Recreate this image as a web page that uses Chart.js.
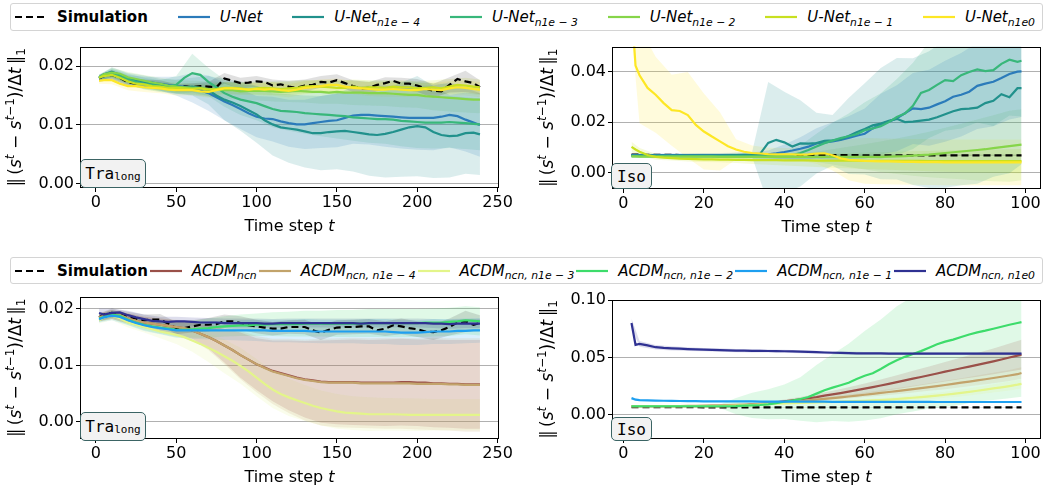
<!DOCTYPE html>
<html>
<head>
<meta charset="utf-8">
<script src="https://cdn.jsdelivr.net/npm/chart.js@4.4.1/dist/chart.umd.min.js"></script>
<style>
  body { margin: 0; background: #fff; }
  #page { position: relative; width: 1048px; height: 494px; overflow: hidden; font-family: 'DejaVu Sans', sans-serif; }
  canvas { position: absolute; }
  .legend { position: absolute; left: 10px; width: 1033px; box-sizing: border-box; border: 1px solid #d4d4d4; border-radius: 3px;
            display: flex; justify-content: space-between; align-items: center; padding: 0 7px 0 4px; font-size: 15px; color: #000; background: #fff; }
  .item { display: flex; align-items: center; white-space: nowrap; }
  .item svg { margin-right: 10px; }
  .item sub { font-size: 72%; vertical-align: baseline; position: relative; top: 0.35em; font-style: italic; }
  .tag { position: absolute; background: #f2f2f2; border: 1.5px solid #3b6464; border-radius: 5px; box-sizing: border-box;
         font: 16px 'DejaVu Sans Mono', monospace; display: flex; align-items: center; justify-content: center; z-index: 2; }
  .tag sub { font-size: 11px; vertical-align: baseline; position: relative; top: 0.3em; }
</style>
</head>
<body>
<div id="page">
  <div class="legend" id="legTop" style="top:3px;height:28px"></div>
  <div class="legend" id="legBottom" style="top:257px;height:27px"></div>

  <canvas id="traUnet" width="520" height="220" style="left:0;top:35px"></canvas>
  <canvas id="isoUnet" width="528" height="220" style="left:520px;top:35px"></canvas>
  <canvas id="traAcdm" width="520" height="209" style="left:0;top:285px"></canvas>
  <canvas id="isoAcdm" width="528" height="209" style="left:520px;top:285px"></canvas>

  <div class="tag" style="left:80px;top:159px;width:66px;height:29px">Tra<sub>long</sub></div>
  <div class="tag" style="left:611px;top:163px;width:41px;height:26px">Iso</div>
  <div class="tag" style="left:80px;top:412px;width:66px;height:29px">Tra<sub>long</sub></div>
  <div class="tag" style="left:611px;top:417px;width:41px;height:24px">Iso</div>
</div>
<script>
// all values are in units of 1e-3

// time steps
const tLong = [2,5,10,15,20,25,30,35,40,45,
               50,55,60,65,70,75,80,85,90,95,
               100,105,110,115,120,125,130,135,140,145,
               150,155,160,165,170,175,180,185,190,195,
               200,205,210,215,220,225,230,235,239];
const bandTLong = [2,10,20,30,40,50,60,70,80,90,100,110,120,130,140,150,160,170,180,190,200,210,220,230,239];
const tIso = [2,3,4,6,8,10,12,14,16,18,
              20,22,24,26,28,30,32,34,36,38,
              40,42,44,46,48,50,52,54,56,58,
              60,62,64,66,68,70,72,74,76,78,
              80,82,84,86,88,90,92,94,96,98,
              99];
const bandTIso = [2,4,8,12,16,20,24,28,32,36,40,44,48,52,56,60,64,68,72,76,80,84,88,92,96,99];

// legend labels
const topNames = ['U-Net','U-Net','U-Net','U-Net','U-Net','U-Net'];
const topSubs = ['','n1e \u2212 4','n1e \u2212 3','n1e \u2212 2','n1e \u2212 1','n1e0'];
const topColors = ['#2b7bba','#21918c','#38b77a','#86d549','#c8e020','#fde725'];
const bottomNames = ['ACDM','ACDM','ACDM','ACDM','ACDM','ACDM'];
const bottomSubs = ['ncn','ncn, n1e \u2212 4','ncn, n1e \u2212 3','ncn, n1e \u2212 2','ncn, n1e \u2212 1','ncn, n1e0'];
const bottomColors = ['#9a5049','#c2a36b','#e3f58a','#3ddc6b','#1e9ff0','#2f3192'];

// ---------- Tra_long, U-Net ----------
const traSim = [17.9,18.3,18.5,18.0,17.2,17.0,17.1,16.8,17.0,16.6,
  16.3,16.6,16.4,16.6,16.5,16.4,17.9,17.5,17.1,17.2,
  17.4,17.3,16.7,16.9,16.5,16.3,16.7,16.8,17.3,17.2,
  17.6,17.1,16.6,16.2,16.3,16.8,17.1,17.5,17.0,17.0,
  16.7,16.2,15.8,15.7,16.8,17.8,17.4,17.1,16.4];
const traUnet = [18.0,18.3,18.6,18.2,17.6,17.3,17.2,17.2,17.0,16.8,
  16.6,16.5,16.3,15.9,15.4,14.7,14.0,13.4,12.7,12.0,
  11.4,11.1,11.0,10.6,10.3,10.1,10.1,10.3,10.5,10.7,
  10.8,11.2,11.6,11.7,11.7,11.6,11.5,11.4,11.3,11.2,
  11.2,11.2,11.2,11.4,11.7,11.5,10.9,10.4,10.0];
const traUnet4 = [18.0,18.6,19.0,18.5,17.9,17.6,17.4,17.0,16.8,16.6,
  16.5,16.4,16.5,16.3,15.9,15.0,14.3,13.8,13.2,12.5,
  11.8,10.8,10.1,9.6,9.4,9.2,8.9,8.6,8.6,8.8,
  8.9,9.0,8.8,8.6,8.4,8.3,8.5,8.8,9.2,9.6,
  9.8,9.6,8.8,8.3,8.1,8.2,8.6,8.7,8.4];
const traUnet3 = [18.1,18.5,18.8,18.3,17.8,17.3,17.0,16.8,16.6,16.5,
  16.8,18.0,18.8,18.5,17.3,16.4,15.4,14.8,14.3,14.0,
  13.7,13.2,12.7,12.4,12.3,12.2,12.0,11.9,11.8,11.7,
  11.6,11.5,11.3,11.2,11.1,11.0,11.0,10.9,10.7,10.6,
  10.5,10.4,10.4,10.4,10.5,10.4,10.3,10.2,10.1];
const traUnet2 = [18.0,18.6,18.9,18.7,18.1,17.8,17.5,17.2,17.0,16.7,
  16.5,16.4,16.3,16.3,16.1,16.0,15.9,15.9,15.7,15.8,
  15.8,15.8,15.7,15.6,15.7,15.8,15.7,15.6,15.6,15.5,
  15.6,15.5,15.5,15.5,15.4,15.4,15.4,15.3,15.2,15.1,
  15.1,14.9,14.8,14.7,14.6,14.5,14.4,14.3,14.3];
const traUnet1 = [18.0,18.3,18.5,18.0,17.4,17.0,16.9,16.6,16.5,16.3,
  16.3,16.2,16.1,16.2,16.0,16.1,16.3,16.3,16.2,16.0,
  16.2,16.3,16.2,16.1,16.2,16.3,16.5,16.6,16.5,16.4,
  16.3,16.3,16.5,16.3,16.4,16.4,16.3,16.5,16.4,16.4,
  16.2,16.3,16.4,16.2,16.5,16.8,16.7,16.5,16.4];
const traUnet0 = [17.5,17.6,17.6,17.0,16.6,16.6,16.4,16.3,16.2,16.0,
  15.9,15.9,15.9,15.7,15.6,15.9,16.2,16.2,16.1,16.0,
  16.1,16.0,16.1,15.9,15.8,16.0,16.3,16.4,16.6,16.8,
  16.8,16.5,16.3,16.2,16.1,16.0,16.0,16.1,16.0,15.9,
  15.9,16.1,16.0,15.9,16.2,16.4,16.3,16.1,16.0];
// standard deviations on bandTLong
const traSimStd = [0.6,0.8,0.6,0.6,0.6,0.6,0.7,0.8,0.9,0.9,0.9,1.0,1.0,1.0,1.0,1.0,1.0,1.0,1.0,1.0,1.1,1.2,1.3,1.8,1.2];
const traUnetStd = [0.5,0.8,0.9,1.0,1.2,1.6,2.5,3.0,3.2,3.4,3.5,3.8,4.0,4.2,4.4,4.6,4.8,5.0,5.2,5.3,5.4,5.5,5.5,5.4,5.4];
const traUnet4Std = [0.5,0.8,0.9,1.0,1.0,1.2,1.5,2.4,3.5,4.2,4.8,5.3,5.8,6.1,6.3,6.4,6.7,7.0,7.4,8.0,8.5,7.8,7.0,6.9,6.9];
const traUnet3Std = [0.5,0.8,0.9,1.0,1.0,1.5,3.3,2.4,2.3,2.6,2.9,3.1,3.3,3.5,3.7,3.9,4.0,4.1,4.2,4.3,4.4,4.4,4.4,4.4,4.4];
const traUnet2Std = [0.5,0.8,0.9,1.0,1.0,1.1,1.2,1.3,1.4,1.5,1.6,1.7,1.8,1.9,2.0,2.0,2.1,2.1,2.2,2.2,2.2,2.3,2.3,2.3,2.3];
const traUnet1Std = [0.5,0.8,0.8,0.8,0.8,0.9,0.9,1.0,1.0,1.0,1.0,1.1,1.1,1.1,1.1,1.1,1.2,1.2,1.2,1.2,1.2,1.2,1.3,1.3,1.3];
const traUnet0Std = [0.5,0.7,0.7,0.8,0.8,0.9,0.9,1.0,1.0,1.0,1.0,1.1,1.1,1.1,1.1,1.1,1.1,1.2,1.2,1.2,1.2,1.2,1.2,1.3,1.3];

// ---------- Iso, U-Net ----------
const isoSim = [7.2,7.2,7.2,7.1,7.1,7.1,7.1,7.0,7.0,7.0,
  7.0,7.0,7.0,7.0,7.0,7.0,7.0,7.0,7.0,7.0,
  7.0,7.0,7.0,7.0,7.0,7.0,7.0,7.0,7.0,7.0,
  6.9,6.9,6.9,6.9,6.9,6.9,6.9,6.9,6.9,6.9,
  6.9,6.9,6.9,6.9,6.9,6.9,6.9,6.9,6.9,6.9,
  6.9];
const isoUnet = [7.0,7.0,7.0,7.0,7.0,7.0,7.0,7.0,7.0,7.0,
  7.0,7.0,7.0,7.0,7.0,7.0,7.0,7.1,7.3,7.7,
  8.2,8.8,9.5,10.3,11.6,12.0,12.4,13.0,13.8,14.6,
  15.4,17.5,19.2,20.2,21.5,23.5,25.4,25.1,25.7,27.0,
  28.2,30.0,30.8,32.0,34.3,35.2,35.9,37.4,39.0,39.9,
  40.0];
const isoUnet4 = [6.8,6.8,6.8,6.8,6.8,6.8,6.8,6.8,6.8,6.8,
  6.8,6.8,6.8,6.9,7.0,7.1,7.2,7.5,11.8,13.0,
  12.0,10.4,11.6,11.5,11.7,12.6,12.8,13.2,14.5,16.0,
  17.3,18.7,19.4,20.5,21.3,20.0,20.2,20.6,21.0,21.9,
  23.1,24.3,25.1,25.3,25.7,27.5,28.4,31.0,29.8,33.4,
  33.4];
const isoUnet3 = [6.6,6.6,6.6,6.6,6.6,6.6,6.6,6.6,6.6,6.6,
  6.6,6.6,6.6,6.6,6.6,6.6,6.6,6.6,6.6,6.7,
  6.8,7.0,7.8,9.0,10.4,11.7,12.7,13.7,14.4,15.2,
  16.8,17.5,18.4,20.0,22.0,23.4,26.4,31.5,32.7,34.7,
  36.6,36.2,38.5,39.8,40.8,40.1,40.5,43.0,44.6,43.8,
  44.2];
const isoUnet2 = [6.5,6.5,6.4,6.4,6.4,6.4,6.4,6.4,6.4,6.4,
  6.4,6.4,6.3,6.3,6.3,6.3,6.3,6.3,6.3,6.3,
  6.3,6.3,6.3,6.3,6.3,6.3,6.3,6.3,6.3,6.3,
  6.3,6.3,6.3,6.4,6.5,6.6,6.8,7.0,7.2,7.5,
  7.8,8.1,8.4,8.7,9.0,9.3,9.7,10.1,10.5,10.9,
  11.1];
const isoUnet1 = [10.2,9.2,8.3,7.0,6.3,6.0,5.8,5.6,5.5,5.4,
  5.3,5.3,5.2,5.2,5.1,5.1,5.0,5.0,5.0,5.0,
  4.9,4.9,4.9,4.9,4.8,4.8,4.8,4.8,4.8,4.8,
  4.7,4.7,4.7,4.7,4.7,4.7,4.7,4.7,4.6,4.6,
  4.6,4.6,4.6,4.6,4.6,4.6,4.6,4.6,4.6,4.6,
  4.6];
const isoUnet0 = [66,42.3,38.5,33.5,30.8,27.5,24.7,24.4,22.8,18.9,
  16.3,14.3,12.4,10.5,9.2,8.3,7.8,7.6,7.4,7.3,
  7.3,7.3,7.2,7.3,7.6,7.7,6.9,5.7,5.1,4.9,
  4.7,4.6,4.5,4.5,4.4,4.3,4.3,4.2,4.2,4.2,
  4.1,4.1,4.1,4.1,4.1,4.1,4.1,4.1,4.1,4.1,
  4.1];
// standard deviations on bandTIso
const isoSimStd = [0.3,0.3,0.3,0.3,0.3,0.3,0.3,0.3,0.3,0.3,0.3,0.3,0.3,0.3,0.3,0.3,0.3,0.3,0.3,0.3,0.3,0.3,0.3,0.3,0.3,0.3];
const isoUnetStd = [0.6,0.6,0.6,0.7,0.7,0.8,0.8,0.9,1.0,1.5,3.0,4.5,6.0,7.5,8.5,10,12,13,14,15,16,16.5,17,17.5,18,18];
const isoUnet4Std = [0.6,0.6,0.6,0.7,0.7,0.8,0.8,0.9,1.0,24,20,17,12,10,15,18,22,24,25,27,29,30,30,30,30,30];
const isoUnet3Std = [0.6,0.6,0.6,0.7,0.7,0.8,0.8,0.9,1.0,1.2,1.5,3,5,7,9,11,13,15,17,19,20,21,21,22,22,22];
const isoUnet2Std = [0.6,0.6,0.6,0.7,0.7,0.8,0.8,0.9,1.0,1.0,1.2,1.5,2,3,4,5,6,7,8,9,10,11,12,13,14,14];
const isoUnet1Std = [2,1.5,1.2,1.0,1.0,1.0,1.0,1.2,1.5,1.8,2,2.3,2.5,2.8,3,3.2,3.4,3.6,3.8,4,4.2,4.4,4.5,4.6,4.7,4.8];
const isoUnet0Std = [10,19,15,14,17,15,11.5,4,3,2.5,2.5,2.5,4,6,8,9,9,9,9,9,9,9,9,9,9,9];

// ---------- Tra_long, ACDM ----------
const traSimB = [18.5,19.0,19.3,19.0,18.6,18.3,18.0,18.1,18.1,17.4,
  16.6,16.6,16.9,17.2,17.2,17.3,17.8,17.8,17.5,17.1,
  16.9,16.7,16.5,16.5,16.8,16.8,16.8,16.2,15.8,16.3,
  16.7,16.8,16.8,16.9,16.9,16.2,16.5,17.1,16.9,16.6,
  16.4,16.0,15.9,16.2,16.8,17.6,17.8,17.2,17.5];
const traAcdm = [18.5,18.8,19.0,18.9,18.3,17.9,17.6,17.4,17.2,17.0,
  16.8,16.6,16.2,15.6,15.0,14.3,13.5,12.7,11.8,11.0,
  10.2,9.6,9.0,8.6,8.2,7.8,7.5,7.3,7.1,7.0,
  7.0,7.0,7.0,6.9,6.9,6.9,6.9,6.9,7.0,7.0,
  6.9,6.9,6.8,6.8,6.7,6.7,6.6,6.6,6.6];
const traAcdm4 = [18.5,18.8,19.0,18.9,18.3,17.9,17.6,17.4,17.2,17.0,
  16.8,16.6,16.2,15.6,15.0,14.3,13.5,12.7,11.8,11.0,
  10.2,9.5,8.9,8.5,8.1,7.7,7.4,7.2,7.0,6.9,
  6.9,6.9,6.9,6.8,6.8,6.8,6.8,6.8,6.8,6.8,
  6.7,6.7,6.7,6.7,6.6,6.6,6.5,6.5,6.5];
const traAcdm3 = [18.0,18.5,18.8,18.3,17.6,17.2,16.8,16.4,16.0,15.7,
  15.4,15.0,14.4,13.8,13.1,12.4,11.6,10.8,9.9,8.9,
  7.8,6.7,5.7,4.9,4.3,3.8,3.3,2.8,2.4,2.1,
  1.8,1.6,1.5,1.4,1.3,1.3,1.3,1.3,1.25,1.2,
  1.2,1.2,1.2,1.2,1.2,1.2,1.2,1.2,1.2];
const traAcdm2 = [18.3,18.6,19.0,18.8,18.1,17.6,17.2,16.9,16.7,16.5,
  16.3,16.3,16.4,16.5,16.6,16.8,16.9,17.0,17.1,17.1,
  17.2,17.2,17.3,17.3,17.3,17.3,17.4,17.4,17.4,17.4,
  17.4,17.4,17.4,17.4,17.5,17.5,17.5,17.5,17.5,17.5,
  17.5,17.6,17.6,17.6,17.7,17.8,18.0,17.9,17.8];
const traAcdm1 = [18.2,18.5,18.8,18.6,18.0,17.5,17.1,16.8,16.6,16.4,
  16.2,16.2,16.2,16.2,16.2,16.2,16.2,16.2,16.2,16.2,
  16.2,16.2,16.1,16.1,16.1,16.1,16.1,16.0,16.0,16.0,
  16.0,16.0,16.0,16.0,16.0,16.0,16.0,15.9,15.8,15.8,
  15.8,15.9,16.0,16.0,16.0,16.1,16.1,16.2,16.2];
const traAcdm0 = [19.3,19.0,19.3,19.4,18.9,18.5,18.2,17.9,17.8,17.7,
  17.8,17.8,17.7,17.6,17.6,17.6,17.5,17.5,17.5,17.5,
  17.5,17.4,17.4,17.5,17.5,17.5,17.5,17.5,17.5,17.5,
  17.5,17.5,17.5,17.4,17.5,17.5,17.5,17.5,17.5,17.5,
  17.5,17.5,17.4,17.4,17.3,17.4,17.4,17.4,17.4];
const traSimBStd = [0.7,0.8,0.9,1.0,1.0,1.1,1.1,1.2,1.2,1.2,1.2,1.2,1.2,1.3,1.3,1.3,1.3,1.3,1.3,1.4,1.4,1.4,1.5,1.9,1.4];
const traAcdmStd = [0.7,0.8,0.9,1.0,1.1,1.2,1.5,2.0,3.0,4.0,4.6,5.4,6.2,6.8,7.3,7.5,7.6,7.6,7.7,7.7,7.7,7.8,7.8,7.9,7.9];
const traAcdm4Std = [0.7,0.8,0.9,1.0,1.1,1.3,1.7,2.3,3.3,4.3,5.0,5.8,6.6,7.2,7.7,7.9,8.0,8.0,8.1,8.1,8.1,8.2,8.2,8.3,8.3];
const traAcdm3Std = [0.6,0.8,0.9,1.0,1.2,1.6,2.0,2.5,3.0,3.2,3.3,3.3,3.3,3.2,3.1,3.1,3.0,3.0,2.9,2.9,2.9,2.8,2.8,2.8,2.8];
const traAcdm2Std = [0.6,0.8,0.9,1.0,1.1,1.3,1.5,1.7,1.8,1.9,2.0,2.1,2.2,2.3,2.3,2.4,2.4,2.5,2.5,2.5,2.5,2.5,2.5,2.5,2.5];
const traAcdm1Std = [0.6,0.8,0.9,1.0,1.1,1.3,1.5,1.6,1.7,1.8,1.9,2.0,2.0,2.1,2.1,2.1,2.1,2.2,2.2,2.2,2.2,2.2,2.2,2.2,2.2];
const traAcdm0Std = [0.8,0.8,0.8,0.8,0.8,0.8,0.8,0.8,0.8,0.8,0.8,0.8,0.8,0.8,0.8,0.8,0.8,0.8,0.8,0.8,0.8,0.8,0.8,0.8,0.8];

// ---------- Iso, ACDM ----------
const isoSimB = [6.8,6.8,6.8,6.8,6.8,6.7,6.7,6.7,6.7,6.7,
  6.6,6.6,6.6,6.6,6.6,6.6,6.6,6.6,6.6,6.6,
  6.5,6.5,6.5,6.5,6.5,6.5,6.5,6.5,6.5,6.5,
  6.5,6.5,6.5,6.5,6.5,6.5,6.5,6.5,6.5,6.5,
  6.5,6.5,6.5,6.5,6.5,6.5,6.5,6.5,6.5,6.5,
  6.5];
const isoAcdm = [7.5,7.5,7.5,7.5,7.5,7.5,7.5,7.5,7.5,7.5,
  7.5,7.5,7.5,7.7,8.0,8.4,8.9,9.5,10.2,11.0,
  11.8,12.6,13.5,14.5,15.5,16.7,17.8,19.0,20.2,21.5,
  22.8,24.2,25.6,27.0,28.5,30.0,31.5,33.0,34.5,36.0,
  37.6,39.1,40.6,42.0,43.5,45.0,46.6,48.2,49.9,51.6,
  52.5];
const isoAcdm4 = [7.5,7.5,7.5,7.5,7.5,7.6,7.6,7.7,7.8,7.9,
  8.1,8.2,8.4,8.6,8.8,9.0,9.3,9.7,10.1,10.5,
  11.0,11.5,12.1,12.7,13.3,14.0,14.6,15.3,16.0,16.7,
  17.5,18.3,19.1,19.9,20.7,21.5,22.4,23.3,24.2,25.1,
  26.0,27.0,28.0,29.0,30.0,31.0,32.1,33.2,34.3,35.4,
  36.5];
const isoAcdm3 = [7.5,7.5,7.5,7.5,7.5,7.5,7.5,7.5,7.5,7.5,
  7.5,7.6,7.7,7.8,8.0,8.2,8.5,8.9,9.3,9.7,
  10.0,10.2,10.4,10.6,10.8,11.0,11.2,11.5,11.8,12.0,
  12.3,12.6,12.9,13.3,13.8,14.3,14.9,15.5,16.1,16.8,
  17.5,18.3,19.1,20.0,21.0,22.0,23.0,24.0,25.1,26.3,
  27.0];
const isoAcdm2 = [7.5,7.5,7.5,7.5,7.5,7.5,7.5,7.5,7.5,7.5,
  7.5,7.5,7.5,7.5,7.6,8.0,8.3,8.6,9.2,10.2,
  11.4,12.5,13.8,15.5,18.5,21.5,23.7,25.8,28.0,31.2,
  34.0,36.3,40.0,44.0,47.5,50.5,53.0,55.5,58.5,61.5,
  63.8,65.5,67.8,70.0,71.8,73.3,75.0,76.7,78.5,80.0,
  80.8];
const isoAcdm1 = [14.6,13.2,12.9,12.6,12.4,12.3,12.2,12.1,12.0,11.9,
  11.8,11.8,11.8,11.7,11.7,11.7,11.7,11.6,11.6,11.6,
  11.6,11.5,11.5,11.5,11.5,11.5,11.4,11.4,11.4,11.4,
  11.4,11.3,11.3,11.3,11.3,11.3,11.3,11.3,11.3,11.2,
  11.2,11.2,11.2,11.2,11.2,11.2,11.2,11.2,11.2,11.2,
  11.2];
const isoAcdm0 = [80,61,61.8,60.5,58.9,58.3,57.9,57.6,57.3,57.0,
  56.8,56.6,56.4,56.2,56.0,55.9,55.8,55.7,55.6,55.5,
  55.4,55.2,55.0,54.8,54.6,54.3,54.1,54.0,53.8,53.6,
  53.5,53.5,53.5,53.4,53.4,53.4,53.4,53.4,53.4,53.4,
  53.4,53.4,53.4,53.4,53.4,53.4,53.4,53.4,53.4,53.4,
  53.4];
const isoSimBStd = [0.3,0.3,0.3,0.3,0.3,0.3,0.3,0.3,0.3,0.3,0.3,0.3,0.3,0.3,0.3,0.3,0.3,0.3,0.3,0.3,0.3,0.3,0.3,0.3,0.3,0.3];
const isoAcdmStd = [0.5,0.5,0.5,0.5,0.5,0.5,0.5,0.6,0.8,1.0,1.5,2.0,2.6,3.2,3.8,4.5,5.3,6.1,6.9,7.7,8.5,9.4,10.3,11.2,12.2,13];
const isoAcdm4Std = [0.5,0.5,0.5,0.5,0.5,0.5,0.5,0.6,0.7,0.8,1.0,1.2,1.4,1.6,1.8,2.0,2.4,2.7,3.0,3.3,3.6,3.9,4.2,4.5,4.8,5];
const isoAcdm3Std = [0.5,0.5,0.5,0.5,0.5,0.5,0.5,0.5,0.5,0.6,0.7,0.8,0.9,1.0,1.1,1.2,1.5,1.8,2.1,2.4,2.7,3.0,3.3,3.6,3.9,4.0];
const isoAcdm2Std = [0.5,0.5,0.5,0.5,0.5,0.6,1.5,7,11,13,15,19,25,29,34,39,43,47,50,53,57,59,60,62,64,65];
const isoAcdm1Std = [1.0,0.7,0.6,0.5,0.5,0.5,0.5,0.5,0.5,0.5,0.5,0.5,0.5,0.5,0.5,0.5,0.5,0.5,0.5,0.5,0.5,0.5,0.5,0.5,0.5,0.5];
const isoAcdm0Std = [4,2.5,2.0,1.8,1.6,1.5,1.5,1.4,1.4,1.3,1.3,1.3,1.3,1.3,1.3,1.3,1.3,1.3,1.3,1.3,1.3,1.3,1.3,1.3,1.3,1.3];

const FONT = "'DejaVu Sans'";

function hexA(hex, a) {
    var r = parseInt(hex.slice(1, 3), 16), g = parseInt(hex.slice(3, 5), 16), b = parseInt(hex.slice(5, 7), 16);
    return 'rgba(' + r + ',' + g + ',' + b + ',' + a + ')';
}

// titles with italics / superscripts, drawn as canvas text
const xTitle = [{t: 'Time step '}, {t: 't', it: true}];
const yTitle = [{t: '\u2016\u2009('}, {t: 's', it: true}, {t: 't', it: true, sup: true}, {t: ' \u2212 '}, {t: 's', it: true},
                {t: 't', it: true, sup: true}, {t: '\u22121', sup: true}, {t: ')/\u0394'}, {t: 't', it: true},
                {t: '\u2009\u2016'}, {t: '1', sub: true}];

function drawRich(ctx, parts, size) {
    var fontOf = function(p) {
        return (p.it ? 'italic ' : '') + ((p.sup || p.sub) ? Math.round(size * 0.7) : size) + 'px ' + FONT;
    };
    var total = 0;
    parts.forEach(function(p) { ctx.font = fontOf(p); p.w = ctx.measureText(p.t).width; total += p.w; });
    var x = -total / 2;
    ctx.textBaseline = 'alphabetic';
    ctx.textAlign = 'left';
    parts.forEach(function(p) {
        ctx.font = fontOf(p);
        var dy = size * 0.36;
        if (p.sup) dy -= size * 0.42;
        if (p.sub) dy += size * 0.22;
        ctx.fillText(p.t, x, dy);
        x += p.w;
    });
}

const framePlugin = {
    id: 'frame',
    afterDraw: function(chart) {
        var a = chart.chartArea, ctx = chart.ctx;
        ctx.save();
        ctx.strokeStyle = '#000';
        ctx.lineWidth = 1;
        ctx.strokeRect(Math.round(a.left) + 0.5, Math.round(a.top) + 0.5, Math.round(a.right - a.left) - 1, Math.round(a.bottom - a.top) - 1);
        ctx.fillStyle = '#000';
        ctx.save();
        ctx.translate((a.left + a.right) / 2, a.bottom + 37);
        drawRich(ctx, xTitle, 16);
        ctx.restore();
        ctx.save();
        ctx.translate(a.left - 65, (a.top + a.bottom) / 2);
        ctx.rotate(-Math.PI / 2);
        drawRich(ctx, yTitle, 17);
        ctx.restore();
        ctx.restore();
    }
};

function makePanel(p) {
    var ds = [];
    var series = [{vals: p.sim, std: p.simStd, color: '#000000', dash: [7, 4], alpha: 0.12}];
    p.lines.forEach(function(v, i) {
        series.push({vals: v, std: p.stds[i], color: p.colors[i], dash: [], alpha: 0.16});
    });
    series.forEach(function(s) {
        var mean = function(x) { return s.vals[p.t.indexOf(x)]; };
        ds.push({
            data: p.bandT.map(function(x, k) { return {x: x, y: (mean(x) - s.std[k]) / 1000}; }),
            borderColor: 'transparent', borderWidth: 0, pointRadius: 0, fill: false, order: 1000
        });
        ds.push({
            data: p.bandT.map(function(x, k) { return {x: x, y: (mean(x) + s.std[k]) / 1000}; }),
            borderColor: 'transparent', borderWidth: 0, pointRadius: 0, fill: '-1',
            backgroundColor: hexA(s.color, s.alpha), order: 1000
        });
    });
    series.forEach(function(s, i) {
        ds.push({
            data: p.t.map(function(x, k) { return {x: x, y: s.vals[k] / 1000}; }),
            borderColor: s.color, borderWidth: 2.2, borderDash: s.dash, pointRadius: 0,
            fill: false, tension: 0, order: 100 - i
        });
    });

    return new Chart(document.getElementById(p.id).getContext('2d'), {
        type: 'line',
        data: {datasets: ds},
        options: {
            responsive: false,
            animation: false,
            devicePixelRatio: 1,
            layout: {padding: {top: p.padTop, right: p.padRight, bottom: 0, left: 0}},
            plugins: {legend: {display: false}, tooltip: {enabled: false}},
            scales: {
                x: {
                    type: 'linear', min: p.xMin, max: p.xMax,
                    afterBuildTicks: function(s) { s.ticks = p.xTicks.map(function(v) { return {value: v}; }); },
                    afterFit: function(s) { s.height = p.xAxisH; },
                    ticks: {font: {family: FONT, size: 16}, color: '#000', padding: 1, maxRotation: 0, autoSkip: false,
                            callback: function(v) { return String(v); }},
                    grid: {drawOnChartArea: false, tickLength: 4, tickColor: '#000'},
                    border: {display: false}
                },
                y: {
                    type: 'linear', min: p.yMin, max: p.yMax,
                    afterBuildTicks: function(s) { s.ticks = p.yTicks.map(function(v) { return {value: v}; }); },
                    afterFit: function(s) { s.width = p.yAxisW; },
                    ticks: {font: {family: FONT, size: 16}, color: '#000', padding: 2,
                            callback: function(v) { return v.toFixed(2); }},
                    grid: {color: '#b0b0b0', lineWidth: 1, tickLength: 4, tickColor: '#000'},
                    border: {display: false}
                }
            }
        },
        plugins: [framePlugin]
    });
}

makePanel({
    id: 'traUnet', t: tLong, bandT: bandTLong, sim: traSim, simStd: traSimStd,
    lines: [traUnet, traUnet4, traUnet3, traUnet2, traUnet1, traUnet0],
    stds: [traUnetStd, traUnet4Std, traUnet3Std, traUnet2Std, traUnet1Std, traUnet0Std],
    colors: topColors, xMin: -9.85, xMax: 250.85, yMin: -0.0007, yMax: 0.0233,
    xTicks: [0, 50, 100, 150, 200, 250], yTicks: [0, 0.01, 0.02],
    padTop: 7, padRight: 21, yAxisW: 80, xAxisH: 67
});
makePanel({
    id: 'isoUnet', t: tIso, bandT: bandTIso, sim: isoSim, simStd: isoSimStd,
    lines: [isoUnet, isoUnet4, isoUnet3, isoUnet2, isoUnet1, isoUnet0],
    stds: [isoUnetStd, isoUnet4Std, isoUnet3Std, isoUnet2Std, isoUnet1Std, isoUnet0Std],
    colors: topColors, xMin: -2.85, xMax: 103.85, yMin: -0.0064, yMax: 0.0498,
    xTicks: [0, 20, 40, 60, 80, 100], yTicks: [0, 0.02, 0.04],
    padTop: 7, padRight: 7, yAxisW: 92, xAxisH: 66
});
makePanel({
    id: 'traAcdm', t: tLong, bandT: bandTLong, sim: traSimB, simStd: traSimBStd,
    lines: [traAcdm, traAcdm4, traAcdm3, traAcdm2, traAcdm1, traAcdm0],
    stds: [traAcdmStd, traAcdm4Std, traAcdm3Std, traAcdm2Std, traAcdm1Std, traAcdm0Std],
    colors: bottomColors, xMin: -9.85, xMax: 250.85, yMin: -0.0031, yMax: 0.0222,
    xTicks: [0, 50, 100, 150, 200, 250], yTicks: [0, 0.01, 0.02],
    padTop: 8, padRight: 21, yAxisW: 80, xAxisH: 55
});
makePanel({
    id: 'isoAcdm', t: tIso, bandT: bandTIso, sim: isoSimB, simStd: isoSimBStd,
    lines: [isoAcdm, isoAcdm4, isoAcdm3, isoAcdm2, isoAcdm1, isoAcdm0],
    stds: [isoAcdmStd, isoAcdm4Std, isoAcdm3Std, isoAcdm2Std, isoAcdm1Std, isoAcdm0Std],
    colors: bottomColors, xMin: -2.85, xMax: 103.85, yMin: -0.021, yMax: 0.1,
    xTicks: [0, 20, 40, 60, 80, 100], yTicks: [0, 0.05, 0.10],
    padTop: 15, padRight: 7, yAxisW: 92, xAxisH: 55
});

// legends (html text)
function sample(color, dashed) {
    return '<svg width="32" height="10"><line x1="0" y1="5" x2="32" y2="5" stroke="' + color +
           '" stroke-width="2.2"' + (dashed ? ' stroke-dasharray="7,4"' : '') + '/></svg>';
}
function buildLegend(id, names, subs, colors) {
    var html = '<span class="item">' + sample('#000', true) + '<b>Simulation</b></span>';
    names.forEach(function(n, i) {
        html += '<span class="item">' + sample(colors[i], false) + '<span><i>' + n + '</i>' +
                (subs[i] ? '<sub>' + subs[i] + '</sub>' : '') + '</span></span>';
    });
    document.getElementById(id).innerHTML = html;
}
buildLegend('legTop', topNames, topSubs, topColors);
buildLegend('legBottom', bottomNames, bottomSubs, bottomColors);
</script>
</body>
</html>
